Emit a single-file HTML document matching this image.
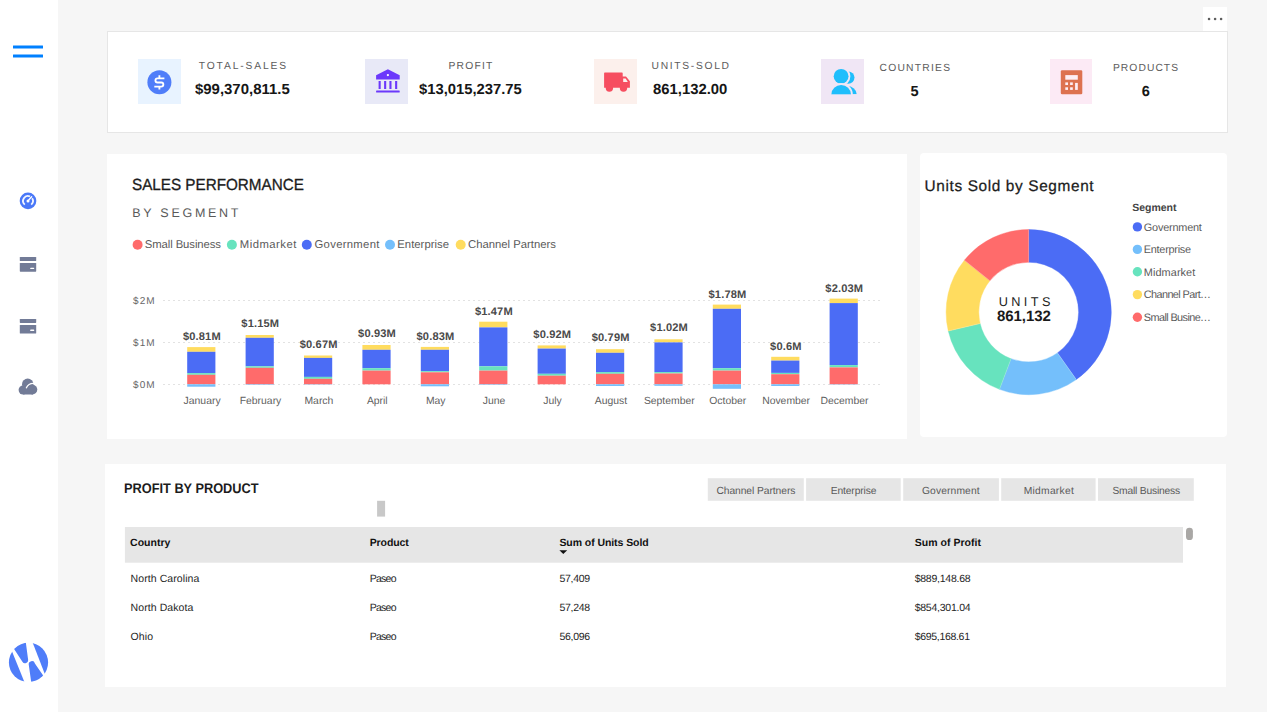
<!DOCTYPE html>
<html lang="en">
<head>
<meta charset="utf-8">
<title>Sales Dashboard</title>
<style>
*{box-sizing:border-box;margin:0;padding:0}
html,body{width:1267px;height:712px;overflow:hidden}
body{text-rendering:geometricPrecision;background:#f6f6f6;font-family:"Liberation Sans",sans-serif;position:relative;color:#222}
.abs{position:absolute}
.t{position:absolute;white-space:nowrap;line-height:1}
#side{left:0;top:0;width:58px;height:712px;background:#fff}
#kpi{left:107px;top:31px;width:1121px;height:102px;background:#fff;border:1px solid #e6e6e6}
#more{left:1203px;top:7px;width:24px;height:24px;background:#fff}
#sales{left:107px;top:154px;width:800px;height:285px;background:#fff}
#donut{left:920px;top:153px;width:307px;height:284px;background:#fff;border-radius:4px}
#tbl{left:105px;top:464px;width:1121px;height:223px;background:#fff}
</style>
</head>
<body>
<div id="side" class="abs"></div>
<div id="more" class="abs"></div>
<div id="kpi" class="abs"></div>
<div id="sales" class="abs"></div>
<div id="donut" class="abs"></div>
<div id="tbl" class="abs"></div>
<svg class="abs" style="left:0;top:0" width="58" height="712" viewBox="0 0 58 712">
 <!-- hamburger -->
 <rect x="13" y="45.5" width="30" height="3" rx="0.3" fill="#0080ff"/>
 <rect x="13" y="54.5" width="30" height="3" rx="0.3" fill="#0080ff"/>
 <!-- gauge -->
 <circle cx="28" cy="200.9" r="8.3" fill="#4a78f8"/>
 <path d="M24.79 204.6 A4.9 4.9 0 0 1 29.99 196.42 M32.16 198.3 A4.9 4.9 0 0 1 31.21 204.6" fill="none" stroke="#fff" stroke-width="1.8" opacity="0.93"/>
 <path d="M28 200.9 L31.6 196.7" stroke="#fff" stroke-width="1.4" stroke-linecap="round"/>
 <circle cx="28" cy="200.9" r="1.5" fill="#fff"/>
 <!-- card 1 -->
 <g fill="#727b97">
  <rect x="19.8" y="257" width="16.4" height="4" rx="0.6"/>
  <rect x="19.8" y="263" width="16.4" height="8.7" rx="0.6"/>
  <rect x="19.8" y="318.9" width="16.4" height="4" rx="0.6"/>
  <rect x="19.8" y="324.9" width="16.4" height="8.7" rx="0.6"/>
 </g>
 <rect x="30.2" y="267.7" width="4" height="1.4" rx="0.6" fill="#fff"/>
 <rect x="30.2" y="329.4" width="4" height="1.6" rx="0.6" fill="#fff"/>
 <!-- cloud -->
 <g fill="#727b97">
  <circle cx="27.7" cy="384.2" r="5.7"/>
  <circle cx="23.1" cy="390" r="4.5"/>
  <circle cx="32.4" cy="389.6" r="4.9"/>
  <rect x="23" y="386" width="10" height="8.5"/>
 </g>
 <path d="M26.4 387.8 C27.6 385.0 30.2 383.2 33.6 383.3" fill="none" stroke="#fff" stroke-width="1.3" stroke-linecap="round"/>
 <!-- logo -->
 <defs><clipPath id="lc"><circle cx="28.5" cy="662.4" r="19.6"/></clipPath></defs>
 <g clip-path="url(#lc)" fill="#4f7df9">
  <polygon points="0,640 7.4,640 24.6,682.5 0,690"/>
  <polygon points="32.9,643.3 44.9,674.3 60,690 60,630 30,630"/>
  <path d="M13.6 648.2 L25.5 640 L28.1 659.6 A3.1 3.1 0 0 1 22.4 661.7 Z"/>
  <path d="M31.6 685 L44.2 676.9 L34.9 663.5 A3.1 3.1 0 0 0 28.8 664.9 Z"/>
 </g>
</svg>

<svg class="abs" style="left:1203px;top:7px" width="24" height="24"><g fill="#5e5e5e"><circle cx="6.05" cy="12" r="1.3"/><circle cx="12.1" cy="12" r="1.3"/><circle cx="18.1" cy="12" r="1.3"/></g></svg>
<svg class="abs" style="left:107px;top:31px" width="1121" height="102" viewBox="107 31 1121 102">
 <rect x="138" y="59" width="43" height="45" fill="#e8f3ff"/>
 <rect x="365" y="59" width="43" height="45" fill="#e8e9f7"/>
 <rect x="594" y="59" width="43" height="45" fill="#fcf0ec"/>
 <rect x="821" y="59" width="43" height="45" fill="#f0e6f5"/>
 <rect x="1050" y="59" width="42" height="45" fill="#fceaf5"/>
 <!-- dollar -->
 <circle cx="159.4" cy="82.2" r="12" fill="#4f7df9"/>
 <path d="M164.4 78.4 H157.5 a2.05 2.05 0 0 0 0 4.1 H161.3 a2.05 2.05 0 0 1 0 4.1 H154.3" fill="none" stroke="#fff" stroke-width="1.85"/>
 <path d="M159.4 75.3 V78.4 M159.4 86.6 V89.6" stroke="#fff" stroke-width="1.85"/>
 <!-- bank -->
 <g fill="#6b38fb">
  <path d="M376.1 79.5 V75.3 L387.9 69.3 L399.7 75.3 V79.5 Z"/>
  <rect x="378.6" y="81" width="2.1" height="8"/><rect x="384.1" y="81" width="2.1" height="8"/><rect x="389.4" y="81" width="2.1" height="8"/><rect x="395.1" y="81" width="2.1" height="8"/>
  <rect x="376.1" y="90.4" width="23.6" height="2.1" rx="0.5"/>
 </g>
 <circle cx="387.9" cy="75.1" r="1.15" fill="#fff"/>
 <!-- truck -->
 <g fill="#f64e60">
  <path d="M604.1 73.3 a0.7 0.7 0 0 1 0.7 -0.7 H622 a0.7 0.7 0 0 1 0.7 0.7 V76.5 H626 L629.9 81.2 V87.8 H604.1 Z"/>
  <circle cx="609.4" cy="88" r="3.7"/><circle cx="623.5" cy="88" r="3.7"/>
 </g>
 <path d="M623.2 78.6 H625.6 L627.8 82 H623.2 Z" fill="#fdf1ee"/>
 <!-- users -->
 <g fill="#1fbefc">
  <circle cx="848.3" cy="77.6" r="6.2"/><path d="M837.2 94.3 A9.75 8.3 0 0 1 856.7 94.3 Z"/>
  <g stroke="#f0e6f5" stroke-width="3.8" paint-order="stroke"><circle cx="841.1" cy="76.3" r="7.4"/><path d="M831.4 94.3 A9.75 9.3 0 0 1 850.9 94.3 V97 H831.4 Z"/></g>
 </g>
 <rect x="825" y="94.3" width="36" height="5" fill="#f0e6f5"/>
 <!-- calculator -->
 <rect x="1060.8" y="70.2" width="21.5" height="24" rx="1.3" fill="#dd7250"/>
 <g fill="#fdeef4"><rect x="1065.3" y="75.1" width="12.5" height="4.6"/>
  <rect x="1065.3" y="82.4" width="2.7" height="2.6"/><rect x="1070.1" y="82.4" width="2.7" height="2.6"/>
  <rect x="1065.3" y="87.3" width="2.7" height="2.6"/><rect x="1070.1" y="87.3" width="2.7" height="2.6"/>
  <rect x="1075.1" y="82.9" width="2.7" height="7"/></g>
</svg>
<div class="t" style="left:198.70px;top:62.18px;font-size:10.3px;color:#5c5c5c;letter-spacing:1.863px;">TOTAL-SALES</div>
<div class="t" style="left:194.80px;top:83.14px;font-size:14.6px;color:#161616;font-weight:bold;transform:scaleX(1.0234);transform-origin:0 0;">$99,370,811.5</div>
<div class="t" style="left:448.40px;top:62.18px;font-size:10.3px;color:#5c5c5c;letter-spacing:1.247px;">PROFIT</div>
<div class="t" style="left:418.70px;top:83.14px;font-size:14.6px;color:#161616;font-weight:bold;transform:scaleX(1.0133);transform-origin:0 0;">$13,015,237.75</div>
<div class="t" style="left:651.60px;top:62.18px;font-size:10.3px;color:#5c5c5c;letter-spacing:1.669px;">UNITS-SOLD</div>
<div class="t" style="left:652.80px;top:83.14px;font-size:14.6px;color:#161616;font-weight:bold;transform:scaleX(1.0172);transform-origin:0 0;">861,132.00</div>
<div class="t" style="left:879.50px;top:64.18px;font-size:10.3px;color:#5c5c5c;letter-spacing:1.232px;">COUNTRIES</div>
<div class="t" style="left:910.54px;top:84.54px;font-size:14.6px;color:#161616;font-weight:bold;">5</div>
<div class="t" style="left:1112.90px;top:64.18px;font-size:10.3px;color:#5c5c5c;letter-spacing:1.060px;">PRODUCTS</div>
<div class="t" style="left:1141.74px;top:84.54px;font-size:14.6px;color:#161616;font-weight:bold;">6</div>

<svg class="abs" style="left:107px;top:154px" width="800" height="285" viewBox="107 154 800 285">
<circle cx="137.6" cy="244.8" r="5" fill="#ff6b6b"/>
<circle cx="231.9" cy="244.8" r="5" fill="#67e3be"/>
<circle cx="306.8" cy="244.8" r="5" fill="#4b6cf5"/>
<circle cx="390.0" cy="244.8" r="5" fill="#74bffb"/>
<circle cx="460.7" cy="244.8" r="5" fill="#ffdc5f"/>
<path d="M163 300.5 H881" stroke="#e2e2e2" stroke-width="1" stroke-dasharray="2 3"/>
<path d="M163 342.5 H881" stroke="#e2e2e2" stroke-width="1" stroke-dasharray="2 3"/>
<path d="M163 384.5 H881" stroke="#e2e2e2" stroke-width="1" stroke-dasharray="2 3"/>
<rect x="187.2" y="347.1" width="28.2" height="4.7" fill="#ffdc5f"/>
<rect x="187.2" y="351.8" width="28.2" height="21.3" fill="#4b6cf5"/>
<rect x="187.2" y="373.1" width="28.2" height="1.7" fill="#67e3be"/>
<rect x="187.2" y="374.8" width="28.2" height="9.5" fill="#ff6b6b"/>
<rect x="187.2" y="384.3" width="28.2" height="2.4" fill="#74bffb"/>
<rect x="245.6" y="335.0" width="28.2" height="2.8" fill="#ffdc5f"/>
<rect x="245.6" y="337.8" width="28.2" height="28.5" fill="#4b6cf5"/>
<rect x="245.6" y="366.3" width="28.2" height="1.5" fill="#67e3be"/>
<rect x="245.6" y="367.8" width="28.2" height="16.5" fill="#ff6b6b"/>
<rect x="245.6" y="384.3" width="28.2" height="0.5" fill="#74bffb"/>
<rect x="304.0" y="355.5" width="28.2" height="2.4" fill="#ffdc5f"/>
<rect x="304.0" y="357.9" width="28.2" height="19.0" fill="#4b6cf5"/>
<rect x="304.0" y="376.9" width="28.2" height="1.9" fill="#67e3be"/>
<rect x="304.0" y="378.8" width="28.2" height="5.5" fill="#ff6b6b"/>
<rect x="304.0" y="384.3" width="28.2" height="0.3" fill="#74bffb"/>
<rect x="362.4" y="345.0" width="28.2" height="4.8" fill="#ffdc5f"/>
<rect x="362.4" y="349.8" width="28.2" height="18.4" fill="#4b6cf5"/>
<rect x="362.4" y="368.2" width="28.2" height="2.4" fill="#67e3be"/>
<rect x="362.4" y="370.6" width="28.2" height="13.7" fill="#ff6b6b"/>
<rect x="420.8" y="346.9" width="28.2" height="2.9" fill="#ffdc5f"/>
<rect x="420.8" y="349.8" width="28.2" height="21.4" fill="#4b6cf5"/>
<rect x="420.8" y="371.2" width="28.2" height="1.1" fill="#67e3be"/>
<rect x="420.8" y="372.3" width="28.2" height="12.0" fill="#ff6b6b"/>
<rect x="420.8" y="384.3" width="28.2" height="2.0" fill="#74bffb"/>
<rect x="479.2" y="321.7" width="28.2" height="5.7" fill="#ffdc5f"/>
<rect x="479.2" y="327.4" width="28.2" height="38.9" fill="#4b6cf5"/>
<rect x="479.2" y="366.3" width="28.2" height="4.3" fill="#67e3be"/>
<rect x="479.2" y="370.6" width="28.2" height="13.7" fill="#ff6b6b"/>
<rect x="479.2" y="384.3" width="28.2" height="0.5" fill="#74bffb"/>
<rect x="537.6" y="345.4" width="28.2" height="3.2" fill="#ffdc5f"/>
<rect x="537.6" y="348.6" width="28.2" height="25.2" fill="#4b6cf5"/>
<rect x="537.6" y="373.8" width="28.2" height="1.9" fill="#67e3be"/>
<rect x="537.6" y="375.7" width="28.2" height="8.6" fill="#ff6b6b"/>
<rect x="596.0" y="349.2" width="28.2" height="3.6" fill="#ffdc5f"/>
<rect x="596.0" y="352.8" width="28.2" height="19.3" fill="#4b6cf5"/>
<rect x="596.0" y="372.1" width="28.2" height="1.7" fill="#67e3be"/>
<rect x="596.0" y="373.8" width="28.2" height="10.5" fill="#ff6b6b"/>
<rect x="596.0" y="384.3" width="28.2" height="1.7" fill="#74bffb"/>
<rect x="654.4" y="339.3" width="28.2" height="3.1" fill="#ffdc5f"/>
<rect x="654.4" y="342.4" width="28.2" height="29.7" fill="#4b6cf5"/>
<rect x="654.4" y="372.1" width="28.2" height="1.4" fill="#67e3be"/>
<rect x="654.4" y="373.5" width="28.2" height="10.8" fill="#ff6b6b"/>
<rect x="654.4" y="384.3" width="28.2" height="1.5" fill="#74bffb"/>
<rect x="712.8" y="304.6" width="28.2" height="4.2" fill="#ffdc5f"/>
<rect x="712.8" y="308.8" width="28.2" height="59.4" fill="#4b6cf5"/>
<rect x="712.8" y="368.2" width="28.2" height="2.4" fill="#67e3be"/>
<rect x="712.8" y="370.6" width="28.2" height="13.7" fill="#ff6b6b"/>
<rect x="712.8" y="384.3" width="28.2" height="4.5" fill="#74bffb"/>
<rect x="771.2" y="356.8" width="28.2" height="3.8" fill="#ffdc5f"/>
<rect x="771.2" y="360.6" width="28.2" height="12.3" fill="#4b6cf5"/>
<rect x="771.2" y="372.9" width="28.2" height="1.3" fill="#67e3be"/>
<rect x="771.2" y="374.2" width="28.2" height="10.1" fill="#ff6b6b"/>
<rect x="771.2" y="384.3" width="28.2" height="1.7" fill="#74bffb"/>
<rect x="829.6" y="298.6" width="28.2" height="4.5" fill="#ffdc5f"/>
<rect x="829.6" y="303.1" width="28.2" height="62.0" fill="#4b6cf5"/>
<rect x="829.6" y="365.1" width="28.2" height="2.3" fill="#67e3be"/>
<rect x="829.6" y="367.4" width="28.2" height="16.9" fill="#ff6b6b"/>
<rect x="829.6" y="384.3" width="28.2" height="0.3" fill="#74bffb"/>
</svg>
<div class="t" style="left:132.30px;top:177.17px;font-size:16.1px;color:#1c1c1c;transform:scaleX(0.9469);transform-origin:0 0;-webkit-text-stroke:0.3px #1c1c1c;">SALES PERFORMANCE</div>
<div class="t" style="left:132.30px;top:207.22px;font-size:12.5px;color:#5a5a5a;letter-spacing:2.718px;">BY SEGMENT</div>
<div class="t" style="left:144.70px;top:240.33px;font-size:11.3px;color:#5a5a5a;letter-spacing:-0.072px;">Small Business</div>
<div class="t" style="left:239.80px;top:240.33px;font-size:11.3px;color:#5a5a5a;letter-spacing:0.471px;">Midmarket</div>
<div class="t" style="left:314.50px;top:240.33px;font-size:11.3px;color:#5a5a5a;letter-spacing:0.303px;">Government</div>
<div class="t" style="left:397.30px;top:240.33px;font-size:11.3px;color:#5a5a5a;letter-spacing:0.022px;">Enterprise</div>
<div class="t" style="left:468.00px;top:240.33px;font-size:11.3px;color:#5a5a5a;letter-spacing:0.005px;">Channel Partners</div>
<div class="t" style="left:182.92px;top:332.20px;font-size:11.1px;color:#4a4a4a;font-weight:bold;letter-spacing:0.15px;">$0.81M</div>
<div class="t" style="left:183.62px;top:397.20px;font-size:10.4px;color:#5f5f5f;">January</div>
<div class="t" style="left:241.32px;top:319.10px;font-size:11.1px;color:#4a4a4a;font-weight:bold;letter-spacing:0.15px;">$1.15M</div>
<div class="t" style="left:239.71px;top:397.20px;font-size:10.4px;color:#5f5f5f;">February</div>
<div class="t" style="left:299.72px;top:339.90px;font-size:11.1px;color:#4a4a4a;font-weight:bold;letter-spacing:0.15px;">$0.67M</div>
<div class="t" style="left:304.46px;top:397.20px;font-size:10.4px;color:#5f5f5f;">March</div>
<div class="t" style="left:358.12px;top:329.10px;font-size:11.1px;color:#4a4a4a;font-weight:bold;letter-spacing:0.15px;">$0.93M</div>
<div class="t" style="left:366.90px;top:397.20px;font-size:10.4px;color:#5f5f5f;">April</div>
<div class="t" style="left:416.52px;top:331.70px;font-size:11.1px;color:#4a4a4a;font-weight:bold;letter-spacing:0.15px;">$0.83M</div>
<div class="t" style="left:425.88px;top:397.20px;font-size:10.4px;color:#5f5f5f;">May</div>
<div class="t" style="left:474.92px;top:306.80px;font-size:11.1px;color:#4a4a4a;font-weight:bold;letter-spacing:0.15px;">$1.47M</div>
<div class="t" style="left:482.83px;top:397.20px;font-size:10.4px;color:#5f5f5f;">June</div>
<div class="t" style="left:533.32px;top:329.50px;font-size:11.1px;color:#4a4a4a;font-weight:bold;letter-spacing:0.15px;">$0.92M</div>
<div class="t" style="left:543.26px;top:397.20px;font-size:10.4px;color:#5f5f5f;">July</div>
<div class="t" style="left:591.72px;top:333.30px;font-size:11.1px;color:#4a4a4a;font-weight:bold;letter-spacing:0.15px;">$0.79M</div>
<div class="t" style="left:594.72px;top:397.20px;font-size:10.4px;color:#5f5f5f;">August</div>
<div class="t" style="left:650.12px;top:323.40px;font-size:11.1px;color:#4a4a4a;font-weight:bold;letter-spacing:0.15px;">$1.02M</div>
<div class="t" style="left:643.89px;top:397.20px;font-size:10.4px;color:#5f5f5f;">September</div>
<div class="t" style="left:708.52px;top:289.70px;font-size:11.1px;color:#4a4a4a;font-weight:bold;letter-spacing:0.15px;">$1.78M</div>
<div class="t" style="left:709.22px;top:397.20px;font-size:10.4px;color:#5f5f5f;">October</div>
<div class="t" style="left:770.08px;top:341.90px;font-size:11.1px;color:#4a4a4a;font-weight:bold;letter-spacing:0.15px;">$0.6M</div>
<div class="t" style="left:762.13px;top:397.20px;font-size:10.4px;color:#5f5f5f;">November</div>
<div class="t" style="left:825.32px;top:283.70px;font-size:11.1px;color:#4a4a4a;font-weight:bold;letter-spacing:0.15px;">$2.03M</div>
<div class="t" style="left:820.53px;top:397.20px;font-size:10.4px;color:#5f5f5f;">December</div>
<div class="t" style="left:133.00px;top:297.04px;font-size:10px;color:#666;letter-spacing:1.073px;">$2M</div>
<div class="t" style="left:133.00px;top:339.04px;font-size:10px;color:#666;letter-spacing:1.073px;">$1M</div>
<div class="t" style="left:133.00px;top:381.04px;font-size:10px;color:#666;letter-spacing:1.073px;">$0M</div>

<svg class="abs" style="left:920px;top:153px" width="307" height="284" viewBox="920 153 307 284">
<path d="M1028.70 229.50 A82.6 82.6 0 0 1 1076.31 379.60 L1057.46 352.88 A49.9 49.9 0 0 0 1028.70 262.20 Z" fill="#4b6cf5" stroke="#4b6cf5" stroke-width="0.4"/>
<path d="M1076.31 379.60 A82.6 82.6 0 0 1 999.50 389.37 L1011.06 358.78 A49.9 49.9 0 0 0 1057.46 352.88 Z" fill="#74bffb" stroke="#74bffb" stroke-width="0.4"/>
<path d="M999.50 389.37 A82.6 82.6 0 0 1 948.28 330.96 L980.12 323.49 A49.9 49.9 0 0 0 1011.06 358.78 Z" fill="#67e3be" stroke="#67e3be" stroke-width="0.4"/>
<path d="M948.28 330.96 A82.6 82.6 0 0 1 964.42 260.23 L989.87 280.76 A49.9 49.9 0 0 0 980.12 323.49 Z" fill="#ffdc5f" stroke="#ffdc5f" stroke-width="0.4"/>
<path d="M964.42 260.23 A82.6 82.6 0 0 1 1028.70 229.50 L1028.70 262.20 A49.9 49.9 0 0 0 989.87 280.76 Z" fill="#ff6b6b" stroke="#ff6b6b" stroke-width="0.4"/>
<path d="M1028.70 229.50 L1028.70 262.20" stroke="#fff" stroke-width="0.5" opacity="0.4"/>
<path d="M1076.31 379.60 L1057.46 352.88" stroke="#fff" stroke-width="0.5" opacity="0.4"/>
<path d="M999.50 389.37 L1011.06 358.78" stroke="#fff" stroke-width="0.5" opacity="0.4"/>
<path d="M948.28 330.96 L980.12 323.49" stroke="#fff" stroke-width="0.5" opacity="0.4"/>
<path d="M964.42 260.23 L989.87 280.76" stroke="#fff" stroke-width="0.5" opacity="0.4"/>
<circle cx="1137.4" cy="226.9" r="4.7" fill="#4b6cf5"/>
<circle cx="1137.4" cy="249.4" r="4.7" fill="#74bffb"/>
<circle cx="1137.4" cy="271.8" r="4.7" fill="#67e3be"/>
<circle cx="1137.4" cy="294.6" r="4.7" fill="#ffdc5f"/>
<circle cx="1137.4" cy="317.3" r="4.7" fill="#ff6b6b"/>
</svg>
<div class="t" style="left:924.60px;top:179.46px;font-size:15.4px;color:#1c1c1c;letter-spacing:0.622px;-webkit-text-stroke:0.25px #1c1c1c;">Units Sold by Segment</div>
<div class="t" style="left:1132.30px;top:203.21px;font-size:10.5px;color:#444;font-weight:bold;letter-spacing:-0.024px;">Segment</div>
<div class="t" style="left:1143.80px;top:222.67px;font-size:10.9px;color:#5a5a5a;letter-spacing:-0.204px;">Government</div>
<div class="t" style="left:1143.80px;top:245.17px;font-size:10.9px;color:#5a5a5a;letter-spacing:-0.260px;">Enterprise</div>
<div class="t" style="left:1143.80px;top:267.57px;font-size:10.9px;color:#5a5a5a;letter-spacing:0.082px;">Midmarket</div>
<div class="t" style="left:1143.80px;top:290.37px;font-size:10.9px;color:#5a5a5a;letter-spacing:-0.606px;">Channel Part…</div>
<div class="t" style="left:1143.80px;top:313.07px;font-size:10.9px;color:#5a5a5a;letter-spacing:-0.604px;">Small Busine…</div>
<div class="t" style="left:998.70px;top:295.75px;font-size:12.7px;color:#222;letter-spacing:3.409px;">UNITS</div>
<div class="t" style="left:997.10px;top:309.10px;font-size:15px;color:#1a1a1a;font-weight:bold;letter-spacing:-0.089px;">861,132</div>

<svg class="abs" style="left:105px;top:464px" width="1121" height="223" viewBox="105 464 1121 223">
<rect x="707.8" y="478.2" width="96.0" height="22.6" fill="#e6e6e6"/>
<rect x="806.1" y="478.2" width="94.6" height="22.6" fill="#e6e6e6"/>
<rect x="903.2" y="478.2" width="95.7" height="22.6" fill="#e6e6e6"/>
<rect x="1001.2" y="478.2" width="94.4" height="22.6" fill="#e6e6e6"/>
<rect x="1098.0" y="478.2" width="95.8" height="22.6" fill="#e6e6e6"/>
<rect x="377.1" y="500.8" width="8" height="15.8" fill="#c8c8c8"/>
<rect x="124.9" y="527" width="1058.1" height="35.7" fill="#e6e6e6"/>
<rect x="1186" y="527.8" width="6.9" height="12.3" rx="3.4" fill="#a9a7a5"/>
<path d="M559.4 550.2 H567.2 L563.3 554 Z" fill="#111"/>
</svg>
<div class="t" style="left:123.60px;top:481.35px;font-size:14px;color:#1c1c1c;font-weight:bold;transform:scaleX(0.9123);transform-origin:0 0;">PROFIT BY PRODUCT</div>
<div class="t" style="left:716.40px;top:486.68px;font-size:10.3px;color:#5a5a5a;letter-spacing:-0.076px;">Channel Partners</div>
<div class="t" style="left:830.70px;top:486.68px;font-size:10.3px;color:#5a5a5a;letter-spacing:-0.126px;">Enterprise</div>
<div class="t" style="left:922.00px;top:486.68px;font-size:10.3px;color:#5a5a5a;letter-spacing:0.103px;">Government</div>
<div class="t" style="left:1023.70px;top:486.68px;font-size:10.3px;color:#5a5a5a;letter-spacing:0.255px;">Midmarket</div>
<div class="t" style="left:1112.40px;top:486.68px;font-size:10.3px;color:#5a5a5a;letter-spacing:-0.207px;">Small Business</div>
<div class="t" style="left:130.10px;top:537.71px;font-size:10.5px;color:#111;font-weight:bold;letter-spacing:0.008px;">Country</div>
<div class="t" style="left:369.70px;top:537.71px;font-size:10.5px;color:#111;font-weight:bold;letter-spacing:-0.095px;">Product</div>
<div class="t" style="left:559.40px;top:537.71px;font-size:10.5px;color:#111;font-weight:bold;letter-spacing:-0.070px;">Sum of Units Sold</div>
<div class="t" style="left:914.70px;top:537.71px;font-size:10.5px;color:#111;font-weight:bold;letter-spacing:0.032px;">Sum of Profit</div>
<div class="t" style="left:130.60px;top:573.91px;font-size:10.5px;color:#252525;letter-spacing:0.077px;">North Carolina</div>
<div class="t" style="left:369.70px;top:573.91px;font-size:10.5px;color:#252525;letter-spacing:-0.745px;">Paseo</div>
<div class="t" style="left:559.40px;top:573.91px;font-size:10.5px;color:#252525;letter-spacing:-0.265px;">57,409</div>
<div class="t" style="left:914.70px;top:573.91px;font-size:10.5px;color:#252525;letter-spacing:-0.251px;">$889,148.68</div>
<div class="t" style="left:130.60px;top:603.01px;font-size:10.5px;color:#252525;letter-spacing:0.075px;">North Dakota</div>
<div class="t" style="left:369.70px;top:603.01px;font-size:10.5px;color:#252525;letter-spacing:-0.745px;">Paseo</div>
<div class="t" style="left:559.40px;top:603.01px;font-size:10.5px;color:#252525;letter-spacing:-0.265px;">57,248</div>
<div class="t" style="left:914.70px;top:603.01px;font-size:10.5px;color:#252525;letter-spacing:-0.251px;">$854,301.04</div>
<div class="t" style="left:130.60px;top:632.11px;font-size:10.5px;color:#252525;letter-spacing:0.071px;">Ohio</div>
<div class="t" style="left:369.70px;top:632.11px;font-size:10.5px;color:#252525;letter-spacing:-0.745px;">Paseo</div>
<div class="t" style="left:559.40px;top:632.11px;font-size:10.5px;color:#252525;letter-spacing:-0.265px;">56,096</div>
<div class="t" style="left:914.70px;top:632.11px;font-size:10.5px;color:#252525;letter-spacing:-0.311px;">$695,168.61</div>

</body>
</html>
